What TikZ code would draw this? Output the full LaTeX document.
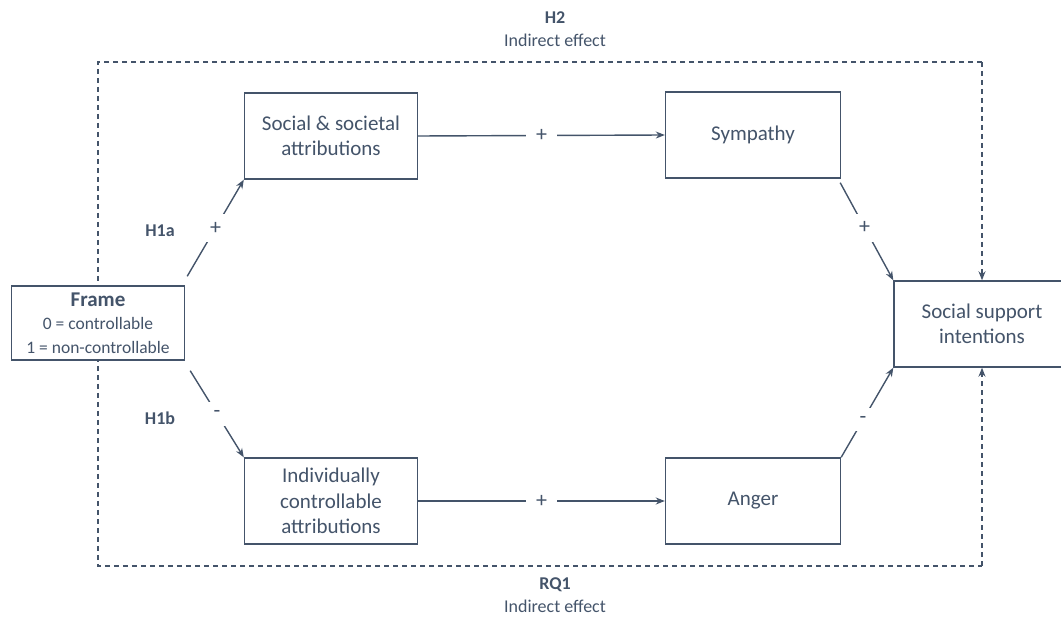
\documentclass[tikz,border=0pt]{standalone}
\usepackage{fontspec}
\setmainfont{Carlito}
\usetikzlibrary{arrows.meta,calc}
\definecolor{ink}{HTML}{44546A}
\tikzset{
  box/.style={draw=ink, line width=1.4pt, fill=white, text=ink, align=center,
    inner sep=0pt, font=\fontsize{21}{25.5}\selectfont},
  conn/.style={draw=ink, line width=1.4pt, -{Stealth[length=9pt,width=7pt]}},
  dashline/.style={draw=ink, line width=1.4pt, dash pattern=on 5pt off 4pt},
  sign/.style={fill=white, text=ink, inner xsep=10pt, inner ysep=8pt, font=\fontsize{22}{24}\selectfont},
  hyp/.style={text=ink, font=\bfseries\fontsize{18}{22}\selectfont},
  captext/.style={text=ink, align=center, font=\fontsize{18}{22}\selectfont},
}
\begin{document}
\begin{tikzpicture}[x=1pt,y=-1pt]
\useasboundingbox (0,0) rectangle (1061,617);
\clip (0,0) rectangle (1061,617);
% dashed frame corners
\coordinate (tl) at (98,62);
\coordinate (tr) at (982,62);
\coordinate (bl) at (98,566);
\coordinate (br) at (982,566);
\draw[dashline] (tr) -- (tl) -- (bl) -- (br);
% nodes
\node[box, minimum width=173pt, minimum height=74pt] (frame) at (98,323)
  {{\bfseries\fontsize{21}{22}\selectfont Frame}\\[-2pt]
   {\fontsize{17.5}{21}\selectfont 0 = controllable}\\[-2pt]
   {\fontsize{17.5}{21}\selectfont 1 = non-controllable}};
\node[box, minimum width=173pt, minimum height=86pt] (social) at (331,136) {Social \& societal\\attributions};
\node[box, minimum width=175pt, minimum height=86pt] (symp) at (753,135) {Sympathy};
\node[box, minimum width=173pt, minimum height=86pt] (indiv) at (331,501) {Individually\\controllable\\attributions};
\node[box, minimum width=175pt, minimum height=86pt] (anger) at (753,501) {Anger};
\node[box, minimum width=176pt, minimum height=86pt] (ssi) at (982,324) {Social support\\intentions};
% dashed arrows into outcome
\draw[dashline, -{Stealth[length=9pt,width=7pt]}] (tr) -- (ssi.north);
\draw[dashline, -{Stealth[length=9pt,width=7pt]}] (br) -- (ssi.south);
% connectors
\draw[conn] ([xshift=2pt,yshift=9pt]frame.north east) -- node[sign]{+} (social.south west);
\draw[conn] ([xshift=5pt,yshift=-10pt]frame.south east) -- node[sign]{-} (indiv.north west);
\draw[conn] (social.east) -- node[sign]{+} (symp.west);
\draw[conn] (indiv.east) -- node[sign]{+} (anger.west);
\draw[conn] ([xshift=-1pt,yshift=-4pt]symp.south east) -- node[sign, pos=0.46]{+} (ssi.north west);
\draw[conn] (anger.north east) -- node[sign, pos=0.42]{-} (ssi.south west);
% labels
\node[hyp] (h1a) at (160,231) {H1a};
\node[hyp] (h1b) at (160,418) {H1b};
\node[hyp] (h2) at (555,18) {H2};
\node[captext] (h2t) at (555,40) {Indirect effect};
\node[hyp] (rq1) at (555,585) {RQ1};
\node[captext] (rq1t) at (555,606) {Indirect effect};
\end{tikzpicture}
\end{document}
